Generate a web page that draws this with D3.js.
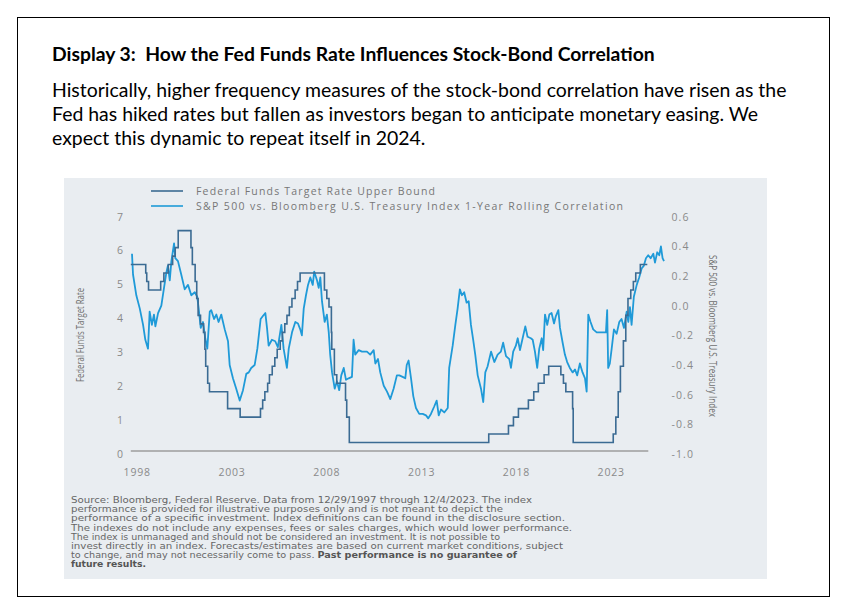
<!DOCTYPE html>
<html><head><meta charset="utf-8">
<script src="https://cdn.jsdelivr.net/npm/d3@7"></script>
<style>html,body{margin:0;padding:0;background:#fff}svg{display:block}</style>
</head><body><svg id="c" width="847" height="614"></svg>
<script>
// ---- DATA ----
const fedDates=[1997.99,1998.74,1998.79,1998.88,1999.49,1999.65,1999.87,2000.09,2000.22,2000.37,2001.01,2001.08,2001.22,2001.30,2001.37,2001.49,2001.64,2001.71,2001.75,2001.85,2001.94,2002.85,2003.48,2004.50,2004.61,2004.72,2004.86,2004.95,2005.09,2005.22,2005.34,2005.49,2005.60,2005.72,2005.83,2005.95,2006.08,2006.24,2006.36,2006.49,2007.71,2007.83,2007.94,2008.06,2008.08,2008.21,2008.33,2008.77,2008.83,2008.96,2015.96,2016.95,2017.20,2017.45,2017.95,2018.22,2018.45,2018.74,2018.97,2019.58,2019.71,2019.83,2020.17,2020.20,2022.21,2022.34,2022.46,2022.57,2022.72,2022.84,2022.95,2023.09,2023.22,2023.34,2023.57,2023.92];
const fedRates=[5.5,5.25,5.0,4.75,5.0,5.25,5.5,5.75,6.0,6.5,6.0,5.5,5.0,4.5,4.0,3.75,3.5,3.0,2.5,2.0,1.75,1.25,1.0,1.25,1.5,1.75,2.0,2.25,2.5,2.75,3.0,3.25,3.5,3.75,4.0,4.25,4.5,4.75,5.0,5.25,4.75,4.5,4.25,3.5,3.0,2.25,2.0,1.5,1.0,0.25,0.5,0.75,1.0,1.25,1.5,1.75,2.0,2.25,2.5,2.25,2.0,1.75,1.25,0.25,0.5,1.0,1.75,2.5,3.25,4.0,4.5,4.75,5.0,5.25,5.5,5.5];
const corrDates=[1997.99,1998.04,1998.20,1998.37,1998.53,1998.64,1998.77,1998.85,1998.96,1999.06,1999.13,1999.26,1999.42,1999.55,1999.66,1999.74,1999.83,1999.91,2000.04,2000.10,2000.23,2000.39,2000.56,2000.72,2000.88,2001.05,2001.17,2001.24,2001.34,2001.45,2001.56,2001.66,2001.78,2001.85,2001.99,2002.10,2002.21,2002.34,2002.51,2002.67,2002.75,2002.91,2003.07,2003.24,2003.40,2003.56,2003.68,2003.80,2003.97,2004.10,2004.26,2004.37,2004.49,2004.57,2004.65,2004.81,2004.97,2005.10,2005.27,2005.38,2005.54,2005.63,2005.79,2005.95,2006.08,2006.19,2006.27,2006.36,2006.47,2006.57,2006.68,2006.80,2006.87,2007.01,2007.09,2007.17,2007.25,2007.38,2007.49,2007.58,2007.65,2007.74,2007.87,2007.98,2008.09,2008.19,2008.31,2008.42,2008.55,2008.71,2008.79,2008.87,2009.04,2009.20,2009.44,2009.60,2009.77,2009.85,2009.98,2010.09,2010.26,2010.42,2010.58,2010.74,2010.90,2011.02,2011.18,2011.31,2011.38,2011.47,2011.59,2011.70,2011.83,2011.99,2012.16,2012.32,2012.43,2012.56,2012.72,2012.84,2012.94,2013.05,2013.21,2013.38,2013.45,2013.62,2013.75,2013.86,2013.97,2014.07,2014.18,2014.30,2014.40,2014.51,2014.62,2014.72,2014.84,2015.00,2015.11,2015.21,2015.32,2015.49,2015.65,2015.81,2015.97,2016.08,2016.22,2016.38,2016.46,2016.57,2016.70,2016.79,2016.90,2017.03,2017.16,2017.27,2017.43,2017.52,2017.63,2017.74,2017.84,2017.96,2018.03,2018.12,2018.23,2018.33,2018.44,2018.56,2018.65,2018.77,2018.85,2018.98,2019.09,2019.20,2019.33,2019.47,2019.58,2019.69,2019.82,2019.95,2020.07,2020.15,2020.23,2020.34,2020.47,2020.64,2020.80,2020.96,2021.09,2021.15,2021.20,2021.28,2021.37,2021.48,2021.61,2021.74,2021.85,2021.97,2022.10,2022.18,2022.26,2022.34,2022.45,2022.59,2022.71,2022.83,2022.94,2023.04,2023.15,2023.27,2023.40,2023.48,2023.59,2023.69,2023.77,2023.85,2023.92];
const corrValues=[0.33,0.19,0.05,-0.04,-0.15,-0.25,-0.31,-0.06,-0.15,-0.08,-0.16,-0.07,-0.02,0.10,0.20,0.25,0.15,0.28,0.40,0.30,0.28,0.19,0.09,0.12,0.05,0.07,0.04,-0.04,-0.17,-0.13,-0.24,-0.31,-0.06,-0.05,-0.11,-0.08,-0.13,-0.08,-0.18,-0.26,-0.42,-0.51,-0.58,-0.66,-0.59,-0.48,-0.47,-0.44,-0.42,-0.31,-0.11,-0.09,-0.07,-0.17,-0.29,-0.25,-0.26,-0.30,-0.15,-0.31,-0.44,-0.31,-0.20,-0.13,-0.14,-0.18,-0.22,-0.04,0.05,0.12,0.17,0.12,0.21,0.15,0.10,0.17,0.01,-0.13,-0.08,-0.20,-0.35,-0.47,-0.58,-0.53,-0.59,-0.49,-0.44,-0.52,-0.51,-0.50,-0.25,-0.35,-0.32,-0.33,-0.33,-0.35,-0.32,-0.41,-0.38,-0.47,-0.56,-0.60,-0.65,-0.58,-0.49,-0.49,-0.50,-0.51,-0.42,-0.39,-0.51,-0.63,-0.71,-0.75,-0.75,-0.76,-0.78,-0.75,-0.70,-0.66,-0.76,-0.72,-0.74,-0.71,-0.44,-0.29,-0.15,-0.04,0.09,0.05,0.07,0.00,0.01,-0.15,-0.25,-0.35,-0.49,-0.58,-0.67,-0.47,-0.43,-0.33,-0.40,-0.35,-0.33,-0.27,-0.36,-0.38,-0.44,-0.33,-0.29,-0.24,-0.32,-0.24,-0.16,-0.23,-0.24,-0.25,-0.33,-0.44,-0.31,-0.24,-0.32,-0.08,-0.15,-0.08,-0.07,-0.14,-0.09,-0.05,-0.17,-0.27,-0.35,-0.40,-0.44,-0.47,-0.45,-0.49,-0.41,-0.47,-0.51,-0.60,-0.08,-0.13,-0.18,-0.20,-0.20,-0.20,-0.20,-0.05,-0.44,-0.41,-0.31,-0.18,-0.21,-0.13,-0.11,-0.17,-0.06,-0.13,-0.03,-0.15,0.04,0.12,0.17,0.23,0.25,0.30,0.32,0.30,0.33,0.27,0.34,0.32,0.38,0.30,0.28];
const leftTicks=[0,1,2,3,4,5,6,7];
const rightTicks=[0.6,0.4,0.2,0.0,-0.2,-0.4,-0.6,-0.8,-1.0];
const yearTicks=[1998,2003,2008,2013,2018,2023];
const seriesNames=["Federal Funds Target Rate Upper Bound","S&P 500 vs. Bloomberg U.S. Treasury Index 1-Year Rolling Correlation"];
const titleText="Display 3:  How the Fed Funds Rate Influences Stock-Bond Correlation";
const bodyLines=["Historically, higher frequency measures of the stock-bond correlation have risen as the","Fed has hiked rates but fallen as investors began to anticipate monetary easing. We","expect this dynamic to repeat itself in 2024."];
const sourceLines=[
 [["Source: Bloomberg, Federal Reserve. Data from 12/29/1997 through 12/4/2023. The index",false]],
 [["performance is provided for illustrative purposes only and is not meant to depict the",false]],
 [["performance of a specific investment. Index definitions can be found in the disclosure section.",false]],
 [["The indexes do not include any expenses, fees or sales charges, which would lower performance.",false]],
 [["The index is unmanaged and should not be considered an investment. It is not possible to",false]],
 [["invest directly in an index. Forecasts/estimates are based on current market conditions, subject",false]],
 [["to change, and may not necessarily come to pass. ",false],["Past performance is no guarantee of",true]],
 [["future results.",true]]
];

// ---- DRAW ----
const svg=d3.select("#c");
const fedColor="#3b6b93", corrColor="#1f9ad8", tickColor="#8a8a8a";
svg.append("rect").attr("width",847).attr("height",614).attr("fill","#fff");
svg.append("rect").attr("x",17.5).attr("y",17.5).attr("width",812).attr("height",579).attr("fill","none").attr("stroke","#000").attr("stroke-width",1);

function fit(sel,target){const w=sel.node().getComputedTextLength();const fs=parseFloat(sel.attr("font-size"));sel.attr("font-size",fs*target/w);return fs*target/w;}

const title=svg.append("text").attr("x",52).attr("y",61).attr("font-family","Lato, 'Open Sans', sans-serif").attr("font-weight","bold").attr("font-size",17).attr("fill","#000").attr("xml:space","preserve").style("white-space","pre").text(titleText);
fit(title,603);
const body=svg.append("g").attr("font-family","Lato, 'Open Sans', sans-serif").attr("fill","#000");
const bl=body.selectAll("text").data(bodyLines).join("text").attr("x",52).attr("y",(d,i)=>97+i*24).attr("font-size",18).text(d=>d);
const bfs=fit(d3.select(bl.nodes()[0]),735);
bl.attr("font-size",bfs);

// panel
svg.append("rect").attr("x",64).attr("y",178).attr("width",703).attr("height",401).attr("fill","#e9edf1");

// scales
const xFed=d3.scaleLinear().domain([1997.99,2023.92]).range([130.8,647.3]);
const xCorr=d3.scaleLinear().domain([1997.99,2023.92]).range([132,664]);
const xYear=d3.scaleLinear().domain([1998,2023]).range([136.7,610.7]);
const yL=d3.scaleLinear().domain([0,7]).range([451,213.7]);
const yR=d3.scaleLinear().domain([-1,0.6]).range([451,213.7]);

const chartFont="'Open Sans', sans-serif";
// left axis
const gl=svg.append("g").attr("transform","translate(123.5,3)").call(d3.axisLeft(yL).tickValues(leftTicks).tickSize(0).tickPadding(0).tickFormat(d3.format("d")));
gl.select(".domain").remove();
gl.selectAll("text").attr("font-family",chartFont).attr("font-size",10.5).attr("fill",tickColor).attr("letter-spacing","0.6px");
// right axis
const gr=svg.append("g").attr("transform","translate(671.5,3)").call(d3.axisRight(yR).tickValues(rightTicks).tickSize(0).tickPadding(0).tickFormat(d=>d3.format(".1f")(d).replace("−","-")));
gr.select(".domain").remove();
gr.selectAll("text").attr("font-family",chartFont).attr("font-size",10.5).attr("fill",tickColor).attr("letter-spacing","1.1px");
// bottom axis labels
const gb=svg.append("g").attr("transform","translate(0,472)").call(d3.axisBottom(xYear).tickValues(yearTicks).tickSize(0).tickPadding(0).tickFormat(d3.format("d")));
gb.select(".domain").remove();
gb.selectAll("text").attr("dy","0.35em").attr("font-family",chartFont).attr("font-size",10.5).attr("fill",tickColor).attr("letter-spacing","0.8px");
// baseline
svg.append("line").attr("x1",xFed.range()[0]).attr("x2",xFed.range()[1]+1).attr("y1",yL(0)).attr("y2",yL(0)).attr("stroke","#9c9c9c").attr("stroke-width",1.5);

// axis titles (condensed)
svg.append("text").attr("transform","translate(84,335) rotate(-90)").attr("text-anchor","middle").attr("font-family",chartFont).attr("font-size",11).attr("fill","#6f6f6f")
  .attr("textLength",94).attr("lengthAdjust","spacingAndGlyphs").text("Federal Funds Target Rate");
svg.append("text").attr("transform","translate(709,336) rotate(90)").attr("text-anchor","middle").attr("font-family",chartFont).attr("font-size",11).attr("fill","#6f6f6f")
  .attr("textLength",162).attr("lengthAdjust","spacingAndGlyphs").text("S&P 500 vs. Bloomberg U.S. Treasury Index");

// lines
const corrData=d3.zip(corrDates,corrValues);
const fedData=d3.zip(fedDates,fedRates);
svg.append("path").datum(corrData).attr("fill","none").attr("stroke",corrColor).attr("stroke-width",1.8).attr("stroke-linejoin","round")
  .attr("d",d3.line().x(d=>xCorr(d[0])).y(d=>yR(d[1])));
svg.append("path").datum(fedData).attr("fill","none").attr("stroke",fedColor).attr("stroke-width",1.6)
  .attr("d",d3.line().curve(d3.curveStepAfter).x(d=>xFed(d[0])).y(d=>yL(d[1])));

// legend
const lg=svg.append("g");
const lcols=[fedColor,corrColor];
const legendW=[239,427];
seriesNames.forEach((n,i)=>{
  lg.append("line").attr("x1",151).attr("x2",183).attr("y1",191+i*15).attr("y2",191+i*15).attr("stroke",lcols[i]).attr("stroke-width",1.6);
  lg.append("text").attr("x",196).attr("y",195+i*15).attr("font-family",chartFont).attr("font-size",10.5).attr("fill","#777")
    .attr("textLength",legendW[i]).attr("lengthAdjust","spacing").text(n);
});

// source (tight leading as in the reference)
const sourceW=[461,432,494,501,429,492,446,75];
const sg=svg.append("g").attr("font-family","'DejaVu Sans', sans-serif").attr("fill","#666").attr("font-size",8.4);
sourceLines.forEach((parts,i)=>{
  const t=sg.append("text").attr("x",71).attr("y",503+i*9.2).attr("xml:space","preserve");
  parts.forEach(p=>{t.append("tspan").attr("font-weight",p[1]?"bold":null).attr("fill",p[1]?"#555":null).text(p[0]);});
  t.attr("textLength",sourceW[i]).attr("lengthAdjust","spacingAndGlyphs");
});
</script></body></html>
